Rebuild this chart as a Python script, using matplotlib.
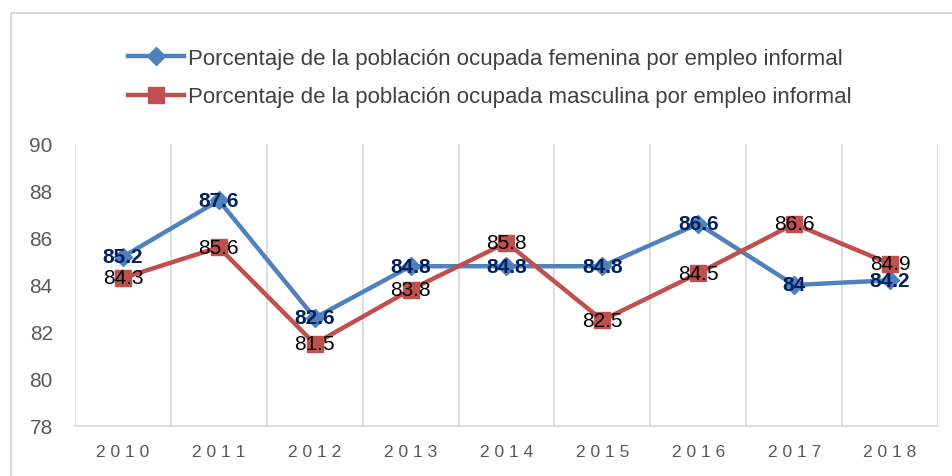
import matplotlib.pyplot as plt
from matplotlib.patches import Rectangle
import numpy as np

# datos
anios = ['2010', '2011', '2012', '2013', '2014', '2015', '2016', '2017', '2018']
femenina = [85.2, 87.6, 82.6, 84.8, 84.8, 84.8, 86.6, 84, 84.2]
masculina = [84.3, 85.6, 81.5, 83.8, 85.8, 82.5, 84.5, 86.6, 84.9]
etiq_fem = 'Porcentaje de la población ocupada femenina por empleo informal'
etiq_mas = 'Porcentaje de la población ocupada masculina por empleo informal'

plt.rcParams['font.family'] = ['Liberation Sans', 'DejaVu Sans']

fig = plt.figure(figsize=(9.53, 4.77), dpi=100)
ax = fig.add_axes([75/953, 1-427/477, 863/953, 282/477])

x = np.arange(len(anios))
azul = '#4F81BD'
rojo = '#C0504D'

l1, = ax.plot(x, femenina, color=azul, lw=3.2, marker='D', ms=9, label=etiq_fem, zorder=3)
l2, = ax.plot(x, masculina, color=rojo, lw=3.2, marker='s', ms=11, label=etiq_mas, zorder=3)

# etiquetas de datos
for xi, v in zip(x, femenina):
    ax.text(xi, v, f'{v:g}', ha='center', va='center', fontsize=15,
            fontweight='bold', color='#002060', zorder=4)
for xi, v in zip(x, masculina):
    ax.text(xi, v, f'{v:g}', ha='center', va='center', fontsize=15,
            color='black', zorder=4)

ax.set_xlim(-0.5, len(anios) - 0.5)
ax.set_ylim(78, 90)
ax.set_yticks(range(78, 91, 2))
ax.set_xticks(x)
ax.set_xticklabels([' '.join(a) for a in anios], fontsize=12.5, color='#595959')
ax.tick_params(axis='y', labelsize=15, labelcolor='#595959', length=0, pad=16)
ax.tick_params(axis='x', length=0, pad=13)

# lineas verticales entre categorias
ax.set_xticks(np.arange(-0.5, len(anios)), minor=True)
ax.tick_params(axis='x', which='minor', length=0)
ax.grid(axis='x', which='minor', color='#D9D9D9', lw=1.2)
ax.grid(axis='x', which='major', visible=False)
for s in ['top', 'left', 'right']:
    ax.spines[s].set_visible(False)
ax.spines['bottom'].set_color('#D9D9D9')
ax.spines['bottom'].set_linewidth(1.2)

fig.legend(handles=[l1, l2], loc='upper center', bbox_to_anchor=(0.514, 0.94),
           frameon=False, fontsize=16, labelcolor='#404040', handlelength=2.5,
           handletextpad=0.2, labelspacing=0.8)

# marco exterior
fig.patches.append(Rectangle((11/953, -0.1), 1.5, 1.1 - 14/477, transform=fig.transFigure,
                             fill=False, edgecolor='#D9D9D9', lw=1.5))

fig.savefig('out.png', dpi=100)
